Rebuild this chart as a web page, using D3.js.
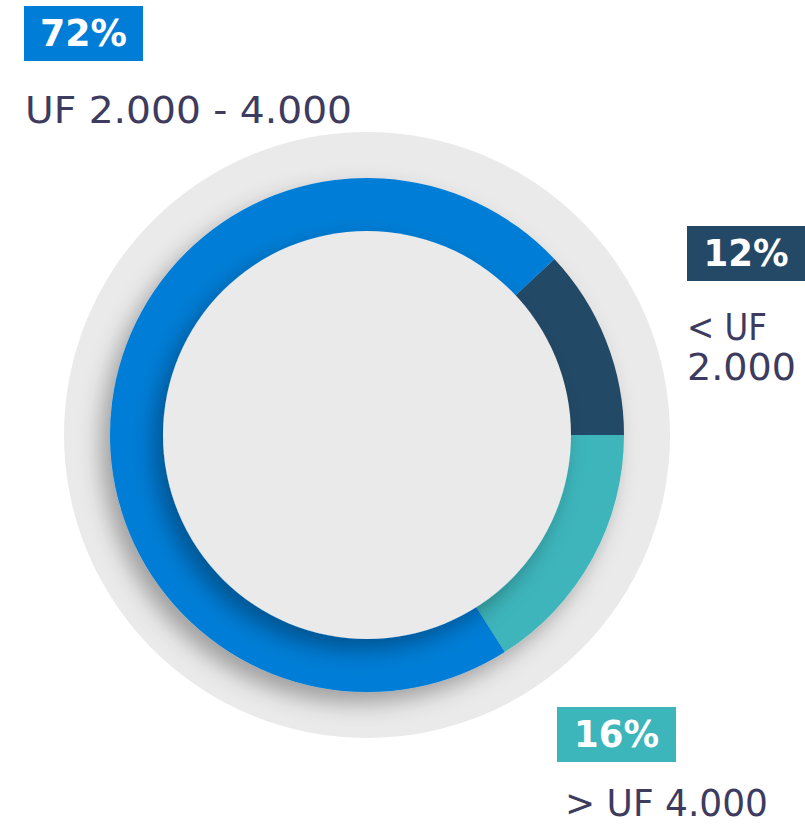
<!DOCTYPE html>
<html>
<head>
<meta charset="utf-8">
<script src="https://cdn.jsdelivr.net/npm/d3@7/dist/d3.min.js"></script>
<style>
  html, body { margin: 0; padding: 0; background: #ffffff; }
  svg { display: block; }
</style>
</head>
<body>
<script>
// Distribution of records by value range (UF)
const categories = ["< UF 2.000", "> UF 4.000", "UF 2.000 - 4.000"];
const shares = [12, 16, 72];
const colors = ["#234966", "#3cb5bb", "#007dd6"];
const shareLabels = ["12%", "16%", "72%"];

const W = 805, H = 826;
const cx = 367, cy = 435;
const rBack = 303, rOuter = 257, rInner = 204;

const svg = d3.select("body").append("svg")
  .attr("width", W).attr("height", H);

const defs = svg.append("defs");
const shadow = defs.append("filter").attr("id", "drop")
  .attr("x", "-30%").attr("y", "-30%").attr("width", "160%").attr("height", "160%");
shadow.append("feDropShadow")
  .attr("dx", -9).attr("dy", 11).attr("stdDeviation", 11)
  .attr("flood-color", "#000").attr("flood-opacity", 0.32);

// Light backdrop disc
svg.append("circle").attr("cx", cx).attr("cy", cy).attr("r", rBack).attr("fill", "#eaeaea");

// Ring: first slice ends at 3 o'clock
const total = d3.sum(shares);
const start = (0.25 - shares[0] / total) * 2 * Math.PI;
const pie = d3.pie().sort(null).value(d => d)
  .startAngle(start).endAngle(start + 2 * Math.PI);
const arc = d3.arc().innerRadius(rInner - 1).outerRadius(rOuter);

const ring = svg.append("g").attr("transform", `translate(${cx},${cy})`)
  .attr("filter", "url(#drop)");
ring.selectAll("path").data(pie(shares)).join("path")
  .attr("d", arc)
  .attr("fill", (d, i) => colors[i]);

// Center disc with its own shadow on the ring
svg.append("circle").attr("cx", cx).attr("cy", cy).attr("r", rInner)
  .attr("fill", "#eaeaea").attr("filter", "url(#drop)");

// Labels: coloured percentage tag plus category text
const labelPos = [
  { bx: 687, by: 226, bw: 118, bh: 55, tw: 85,
    lines: [{ s: "< UF", w: 80 }, { s: "2.000", w: 109 }], tx: 687, ty: 340 },
  { bx: 557, by: 707, bw: 119, bh: 55, tw: 85,
    lines: [{ s: "> UF 4.000", w: 203 }], tx: 565, ty: 816 },
  { bx: 24, by: 6, bw: 119, bh: 55, tw: 87,
    lines: [{ s: "UF 2.000 - 4.000", w: 327 }], tx: 25, ty: 123 }
];

const labels = svg.append("g");
categories.forEach((c, i) => {
  const p = labelPos[i];
  const g = labels.append("g");
  g.append("rect").attr("x", p.bx).attr("y", p.by)
    .attr("width", p.bw).attr("height", p.bh).attr("fill", colors[i]);
  g.append("text").attr("x", p.bx + p.bw / 2).attr("y", p.by + 40)
    .attr("text-anchor", "middle")
    .attr("font-family", "'DejaVu Sans', sans-serif")
    .attr("font-weight", "bold").attr("font-size", 38)
    .attr("textLength", p.tw).attr("lengthAdjust", "spacingAndGlyphs")
    .attr("fill", "#ffffff").text(shareLabels[i]);
  p.lines.forEach((ln, j) => {
    g.append("text").attr("x", p.tx).attr("y", p.ty + j * 40)
      .attr("font-family", "'DejaVu Sans', sans-serif")
      .attr("font-size", 38).attr("fill", "#3d3b5e")
      .attr("textLength", ln.w).attr("lengthAdjust", "spacingAndGlyphs")
      .text(ln.s);
  });
});
</script>
</body>
</html>
